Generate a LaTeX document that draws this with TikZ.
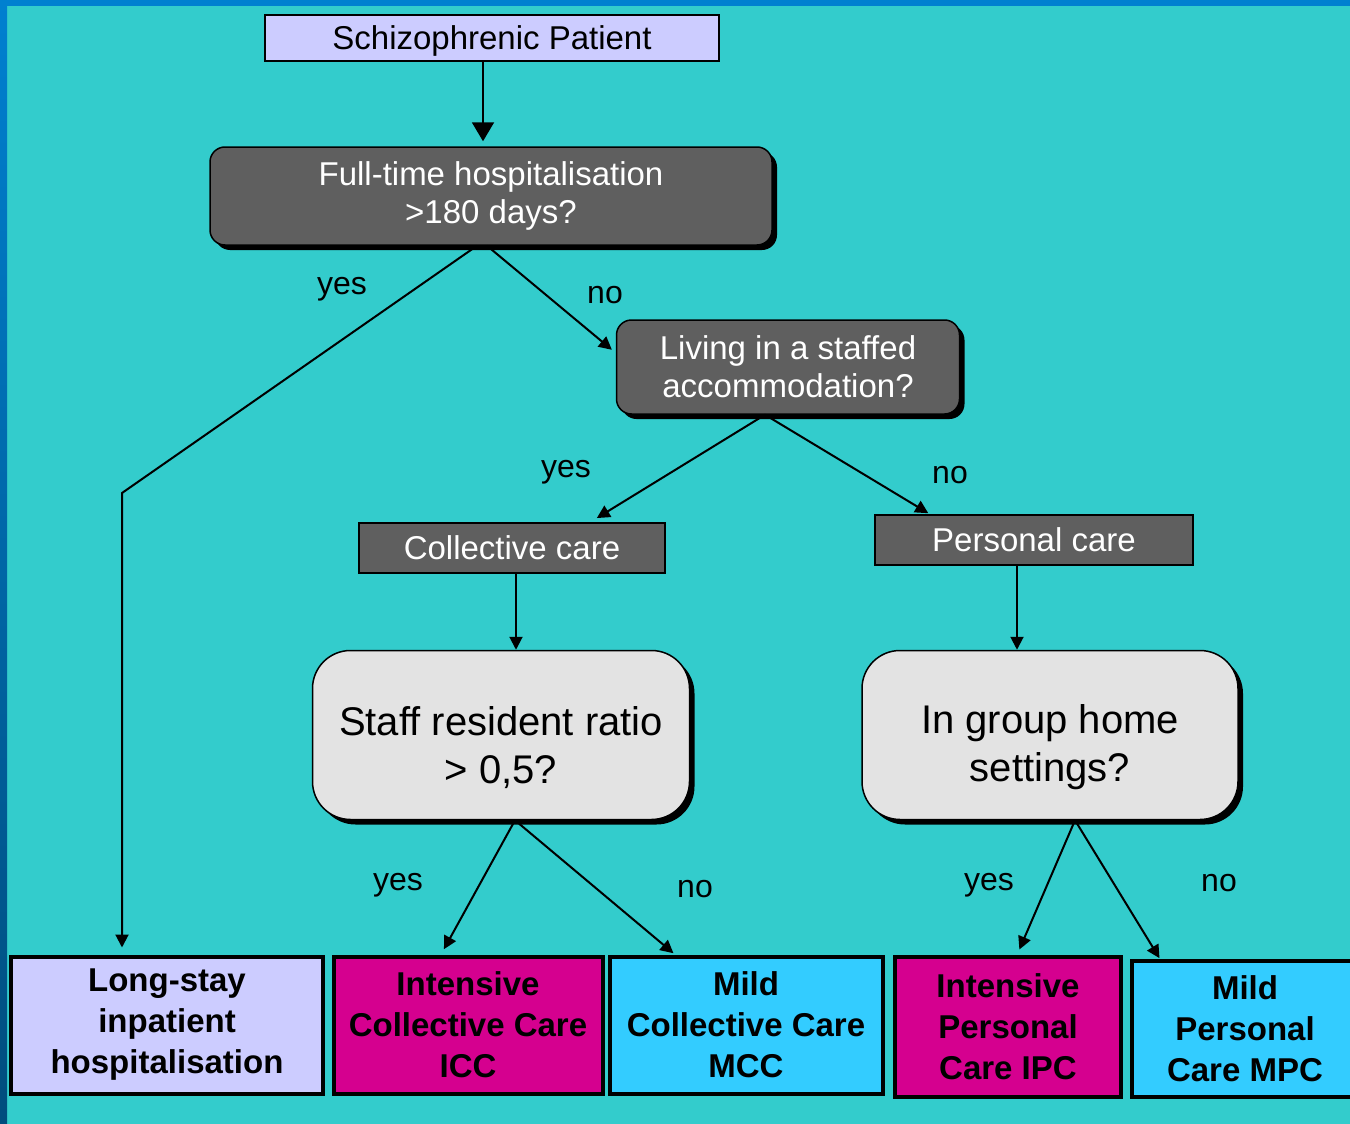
\documentclass[tikz,border=0pt]{standalone}
\usepackage{fontspec}
\setmainfont{Liberation Sans}
\usetikzlibrary{shadows,arrows.meta}
\definecolor{teal bg}{HTML}{33CCCC}
\definecolor{frame blue}{HTML}{0080D0}
\definecolor{dark grey}{HTML}{5F5F5F}
\definecolor{light grey}{HTML}{E3E3E3}
\definecolor{lavender}{HTML}{CCCCFF}
\definecolor{icc magenta}{HTML}{D5008F}
\definecolor{mcc blue}{HTML}{33CCFF}
\tikzset{
  start node/.style={draw,line width=1.5pt,fill=lavender,minimum width=454pt,minimum height=46pt,
    text depth=0pt,font=\fontsize{33}{38}\selectfont},
  dark node/.style={draw,line width=1.5pt,fill=dark grey,text=white,rounded corners=15pt,align=center,
    font=\fontsize{33}{38}\selectfont,
    drop shadow={shadow xshift=5pt,shadow yshift=-5pt,fill=black,opacity=1}},
  care node/.style={draw,line width=1.5pt,fill=dark grey,text=white,minimum height=50pt,
    font=\fontsize{33}{38}\selectfont},
  light node/.style={draw,line width=1.5pt,fill=light grey,rounded corners=38pt,align=center,
    minimum width=377pt,minimum height=169pt,font=\fontsize{40}{48}\selectfont,
    execute at begin node={\rule{0pt}{102pt}},
    drop shadow={shadow xshift=5pt,shadow yshift=-5pt,fill=black,opacity=1}},
  end node/.style={draw,line width=4pt,align=center,minimum height=137pt,
    font=\fontsize{33}{41}\selectfont\bfseries},
  label text/.style={font=\fontsize{32}{36}\selectfont},
  arr/.style={line width=2pt,-{Triangle[length=13pt,width=13pt]}},
}
\begin{document}
\begin{tikzpicture}[x=1pt,y=-1pt]
  \clip (0,0) rectangle (1350,1124);
  \fill[teal bg] (0,0) rectangle (1350,1124);
  \fill[frame blue] (0,0) rectangle (1350,6);
  \shade[top color=frame blue,bottom color=frame blue!60!black] (0,0) rectangle (7,1124);

  % question boxes
  \node[start node] (schizo) at (492,38) {Schizophrenic Patient};
  \node[dark node,minimum width=562pt,minimum height=98pt] (fth) at (491,196)
    {Full-time hospitalisation\\>180 days?};
  \node[dark node,minimum width=343pt,minimum height=94pt] (liv) at (788,367)
    {Living in a staffed\\accommodation?};
  \node[care node,minimum width=306pt] (coll) at (512,548) {Collective care};
  \node[care node,minimum width=318pt] (pers) at (1034,540) {Personal care};
  \node[light node] (staff) at (501,735) {Staff resident ratio\\> 0,5?};
  \node[light node,minimum width=376pt] (group) at (1050,735) {In group home\\settings?};

  % outcomes
  \node[end node,fill=lavender,minimum width=312pt] (long) at (167,1025)
    {Long-stay\\inpatient\\hospitalisation};
  \node[end node,fill=icc magenta,minimum width=269pt] (icc) at (468,1025)
    {Intensive\\Collective Care\\ICC};
  \node[end node,fill=mcc blue,minimum width=273pt] (mcc) at (746,1025)
    {Mild\\Collective Care\\MCC};
  \node[end node,fill=icc magenta,minimum width=226pt,minimum height=140pt] (ipc) at (1008,1027)
    {Intensive\\Personal\\Care IPC};
  \node[end node,fill=mcc blue,minimum width=226pt,minimum height=136pt] (mpc) at (1245,1029)
    {Mild\\Personal\\Care MPC};

  \coordinate (bend) at (122,493);

  \draw[line width=2pt,-{Triangle[length=19pt,width=22pt]},shorten >=5pt]
    (schizo.south -| 483,0) -- (fth.north -| 483,0);
  \draw[arr,shorten >=7pt] (fth.south -| 477,0) -- (bend) -- (bend |- long.north);
  \path[arr]
    (fth.south -| 487,0) edge[shorten >=5pt] ([yshift=14pt]liv.west)
    (liv.south -| 765,0) edge[shorten >=8pt] (coll.north -| 590,0)
    (liv.south -| 765,0) edge[shorten >=2pt] (pers.north -| 930,0)
    (coll.south -| 516,0) edge (staff.north -| 516,0)
    (pers.south -| 1017,0) edge (group.north -| 1017,0)
    (staff.south -| 515,0) edge[shorten >=6pt] (icc.north -| 441,0)
    (staff.south -| 515,0) edge[shorten >=2pt] (mcc.north -| 675,0)
    (group.south -| 1075,0) edge[shorten >=6pt] (ipc.north -| 1017,0)
    (group.south -| 1075,0) edge[shorten >=1pt] (mpc.north -| 1160,0);

  % branch labels
  \node[label text] (y1) at (342,289) {yes};
  \node[label text] (n1) at (605,295) {no};
  \node[label text] (y2) at (566,472) {yes};
  \node[label text] (n2) at (950,475) {no};
  \node[label text] (y3) at (398,885) {yes};
  \node[label text] (n3) at (695,889) {no};
  \node[label text] (y4) at (989,885) {yes};
  \node[label text] (n4) at (1219,883) {no};
\end{tikzpicture}
\end{document}
